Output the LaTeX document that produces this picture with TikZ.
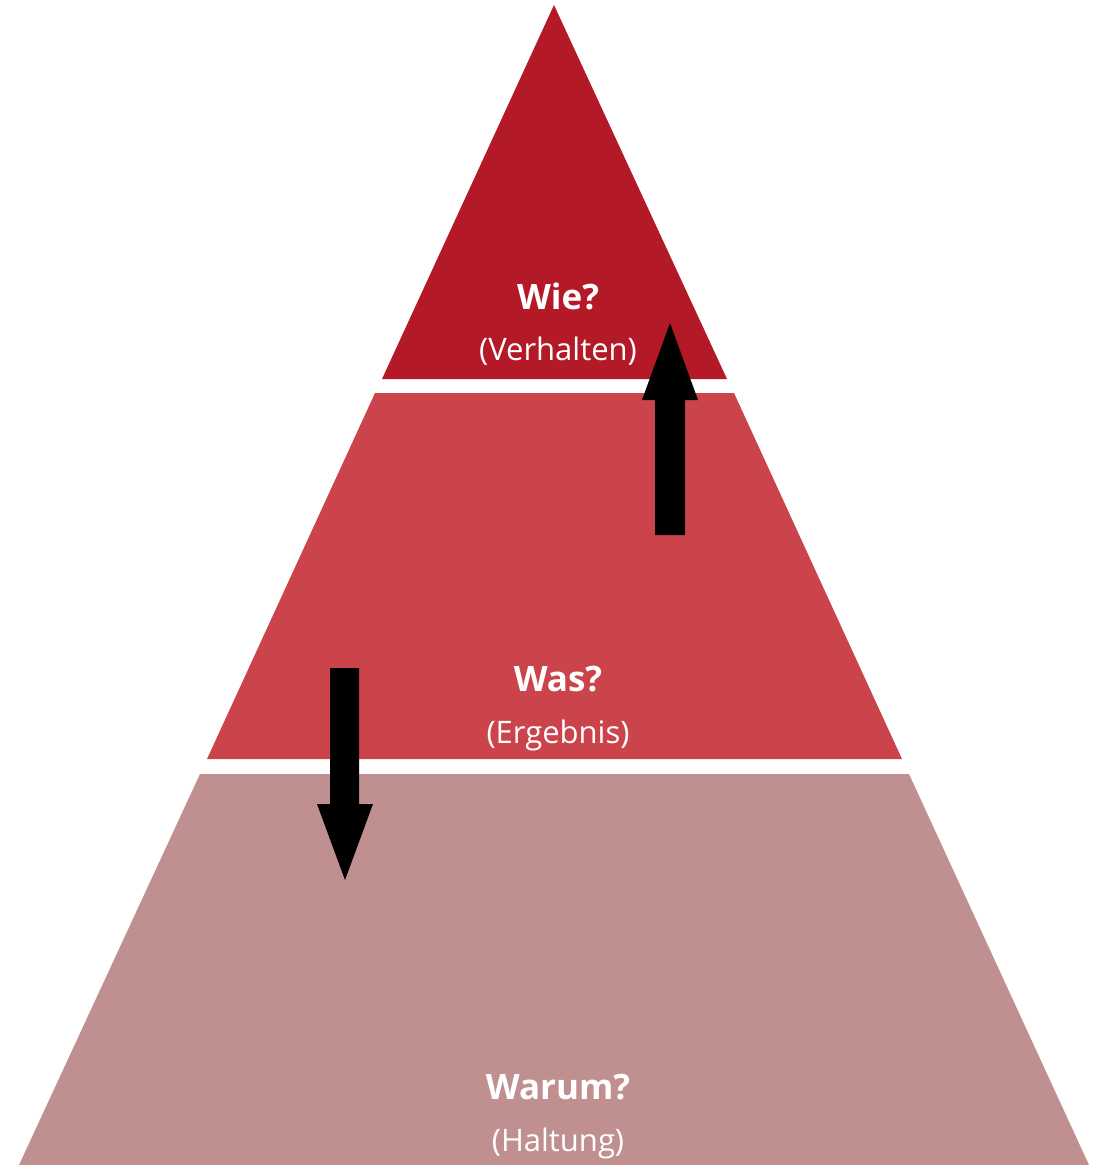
\documentclass[tikz,border=0pt]{standalone}
\usepackage{fontspec}
\setmainfont{Open Sans}
\definecolor{topred}{RGB}{179,25,39}
\definecolor{midred}{RGB}{204,68,75}
\definecolor{lowrose}{RGB}{192,144,144}
\begin{document}
\begin{tikzpicture}[x=1pt,y=-1pt,
  band/.style={draw=none},
  head/.style={text=white,font=\bfseries\fontsize{35}{40}\selectfont,inner sep=0pt},
  sub/.style={text=white,font=\fontsize{31}{36}\selectfont,inner sep=0pt},
  blockarrow/.style={fill=black,draw=none}]
\useasboundingbox (0,0) rectangle (1101,1165);
% bands
\fill[band,topred] (554,5) -- (727,379) -- (382,379) -- cycle;
\fill[band,midred] (375,393) -- (734,393) -- (902,759) -- (207,759) -- cycle;
\fill[band,lowrose] (200,774) -- (909,774) -- (1089,1165) -- (19,1165) -- cycle;
% texts
\node[head] (wie) at (558,296) {Wie?};
\node[sub] (verhalten) at (558,351) {(Verhalten)};
\node[head] (was) at (558,679) {Was?};
\node[sub] (ergebnis) at (558,735) {(Ergebnis)};
\node[head] (warum) at (558,1087) {Warum?};
\node[sub] (haltung) at (558,1143) {(Haltung)};
% block arrows
\fill[blockarrow] (655,535) -- (655,400) -- (642,400) -- (670,323) -- (698,400) -- (685,400) -- (685,535) -- cycle;
\fill[blockarrow] (330,668) -- (330,804) -- (317,804) -- (345,880) -- (373,804) -- (359,804) -- (359,668) -- cycle;
\end{tikzpicture}
\end{document}
